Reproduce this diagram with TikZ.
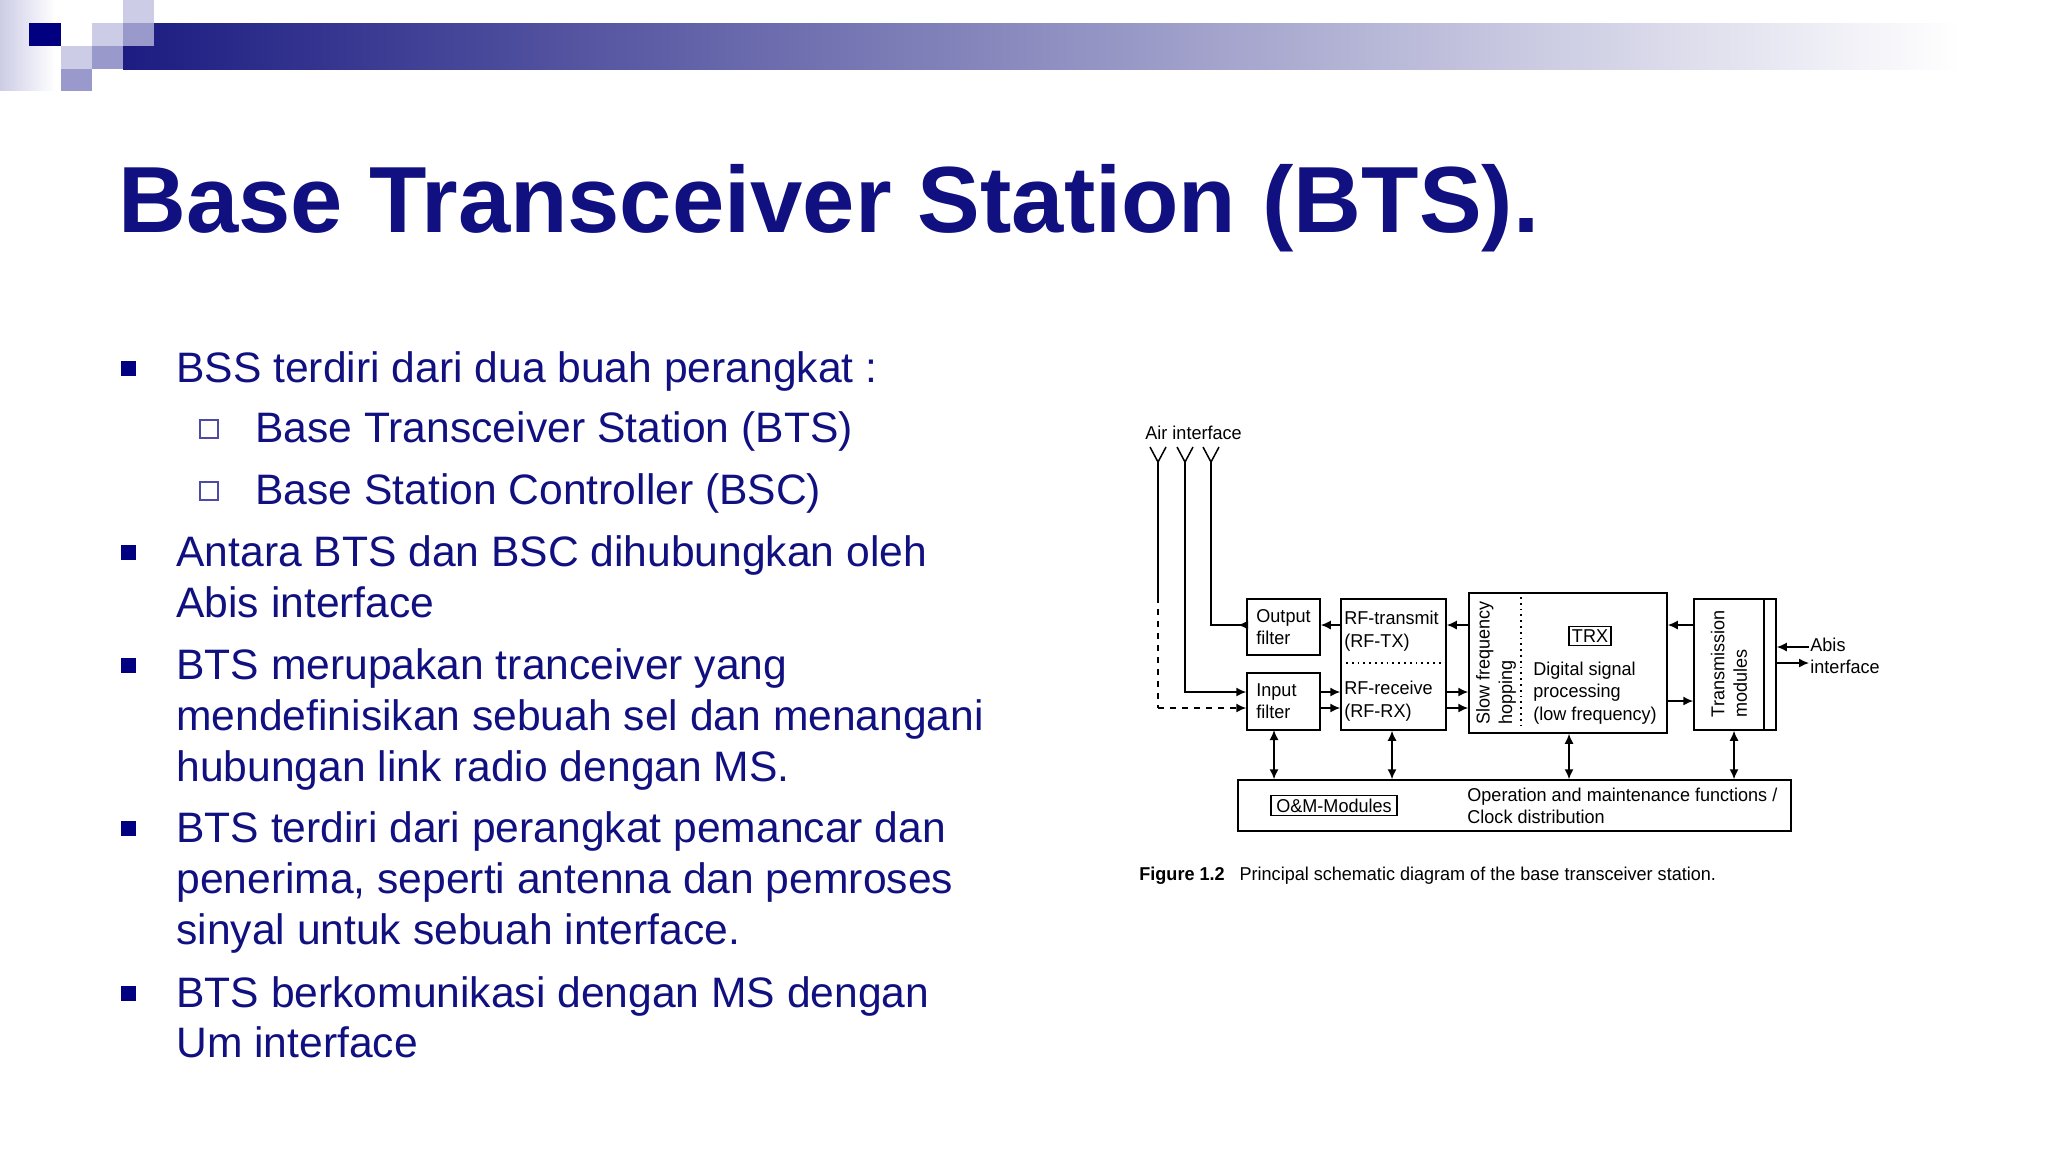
\documentclass[tikz,border=0pt]{standalone}
\usepackage{fontspec}
\setmainfont{Liberation Sans}
\newfontfamily\cond[FakeStretch=0.97]{Liberation Sans}
\usetikzlibrary{arrows.meta,calc}
\definecolor{navy}{RGB}{16,16,128}
\definecolor{sqdark}{RGB}{0,0,128}
\definecolor{sqlight}{RGB}{204,204,230}
\definecolor{sqmid}{RGB}{153,153,204}
\definecolor{barc}{RGB}{28,28,130}
\tikzset{
  blk/.style={draw,line width=0.75pt,inner sep=0pt},
  dlab/.style={font=\cond\fontsize{9.3}{11.3}\selectfont,inner sep=0pt,align=left},
  arr/.style={line width=0.75pt,-{Latex[length=5pt,width=4.5pt]}},
  darr/.style={line width=0.75pt,{Latex[length=5pt,width=4.5pt]}-{Latex[length=5pt,width=4.5pt]}},
  btxt/.style={anchor=base west,inner sep=0pt,text=navy,font=\fontsize{21.3}{25}\selectfont},
}
\begin{document}
\begin{tikzpicture}[x=0.5pt,y=-0.5pt]
\useasboundingbox (0,0) rectangle (2048,1152);
% header
\shade[left color=sqlight,right color=white] (0,0) rectangle (55,90);
\shade[left color=barc,right color=white] (123,23) rectangle (1960,69);
\fill[sqdark] (29,23) rectangle (61,46);
\fill[sqlight] (123,0) rectangle (154,23);
\fill[sqlight] (92,23) rectangle (123,46);
\fill[sqmid] (123,23) rectangle (154,46);
\fill[sqlight] (61,46) rectangle (92,69);
\fill[sqmid] (92,46) rectangle (123,69);
\fill[sqmid] (61,69) rectangle (92,91);
% title
\node[anchor=base west,inner sep=0pt,text=navy,font=\fontsize{47}{56}\selectfont\bfseries] (title) at (118,232) {Base Transceiver Station (BTS).};
% bullets
\foreach \y in {368,552,665,828,993} \fill[sqdark] (121,\y-7) rectangle (136,\y+8);
\foreach \y in {428,490} \draw[sqdark!70,line width=0.7pt] (200,\y-8) rectangle (218,\y+10);
\node[btxt] (b1) at (176,382) {BSS terdiri dari dua buah perangkat :};
\node[btxt] (s1) at (255,442) {Base Transceiver Station (BTS)};
\node[btxt] (s2) at (255,504) {Base Station Controller (BSC)};
\node[btxt] (b2a) at (176,566) {Antara BTS dan BSC dihubungkan oleh};
\node[btxt] (b2b) at (176,617) {Abis interface};
\node[btxt] (b3a) at (176,679) {BTS merupakan tranceiver yang};
\node[btxt] (b3b) at (176,730) {mendefinisikan sebuah sel dan menangani};
\node[btxt] (b3c) at (176,781) {hubungan link radio dengan MS.};
\node[btxt] (b4a) at (176,842) {BTS terdiri dari perangkat pemancar dan};
\node[btxt] (b4b) at (176,893) {penerima, seperti antenna dan pemroses};
\node[btxt] (b4c) at (176,944) {sinyal untuk sebuah interface.};
\node[btxt] (b5a) at (176,1007) {BTS berkomunikasi dengan MS dengan};
\node[btxt] (b5b) at (176,1057) {Um interface};
% diagram
\node[dlab,anchor=west] (air) at (1145,433) {Air interface};
\foreach \n/\x in {a1/1158,a2/1185,a3/1211}{
  \coordinate (\n) at (\x,462);
  \draw[line width=0.75pt] (\x-8,447) -- (\n) -- (\x+8,447);
}
\node[blk,minimum width=36.5pt,minimum height=28pt] (of) at (1283.5,627) {};
\node[blk,minimum width=36.5pt,minimum height=28.5pt] (inf) at (1283.5,701.5) {};
\node[blk,minimum width=52.5pt,minimum height=65.5pt] (rf) at (1393.5,664.5) {};
\node[blk,minimum width=99pt,minimum height=70pt] (trx) at (1568,663) {};
\node[blk,minimum width=41pt,minimum height=65.5pt] (tm) at (1735,664.5) {};
\node[blk,minimum width=276.5pt,minimum height=25.5pt] (om) at (1514.5,805.5) {};
\draw[line width=0.75pt] (1764,599) -- (1764,730);
\draw[dotted,line width=0.9pt] (rf.west |- 0,663) -- (rf.east |- 0,663);
\draw[dotted,line width=0.9pt] (1521,597) -- (1521,729);
% labels
\node[dlab,anchor=west] (ofl) at (1256,627) {Output\\filter};
\node[dlab,anchor=west] (infl) at (1256,701) {Input\\filter};
\node[dlab,anchor=west] (rftx) at (1344,631) {RF-transmit\\(RF-TX)};
\node[dlab,anchor=west] (rfrx) at (1344,701) {RF-receive\\(RF-RX)};
\node[dlab,rotate=90,align=left] (sfh) at (1496,663) {Slow frequency\\hopping};
\node[draw,line width=0.6pt,dlab,inner sep=1.5pt] (trxl) at (1590,636) {TRX};
\node[dlab,anchor=west] (dsp) at (1533,693) {Digital signal\\processing\\(low frequency)};
\node[dlab,rotate=90,align=left] (tml) at (1729,664) {Transmission\\modules};
\node[draw,line width=0.6pt,dlab,inner sep=1.5pt,minimum width=63pt] (omm) at (1334,805.5) {O\&M-Modules};
\node[dlab,anchor=west] (omt) at (1467,806) {Operation and maintenance functions /\\Clock distribution};
% connectors
\draw[line width=0.75pt] (a1) -- (1158,597);
\draw[line width=0.75pt,dashed] (1158,597) -- (1158,708);
\draw[arr,dashed] (1158,708) -- (inf.west |- 0,708);
\draw[arr] (a2) |- (inf.west |- 0,692);
\draw[line width=0.75pt] (a3) |- (of.west |- 0,625);
\draw[arr] (of.west |- 0,625) -- (1238,625);
\draw[arr] (rf.west |- 0,625) -- (of.east |- 0,625);
\draw[arr] (trx.west |- 0,625) -- (rf.east |- 0,625);
\draw[arr] (tm.west |- 0,625) -- (trx.east |- 0,625);
\draw[arr] (inf.east |- 0,692) -- (rf.west |- 0,692);
\draw[arr] (inf.east |- 0,708) -- (rf.west |- 0,708);
\draw[arr] (rf.east |- 0,692) -- (trx.west |- 0,692);
\draw[arr] (rf.east |- 0,708) -- (trx.west |- 0,708);
\draw[arr] (trx.east |- 0,701) -- (tm.west |- 0,701);
\coordinate (abis1) at (1809,647);
\coordinate (abis2) at (1809,663);
\draw[arr] (abis1) -- (tm.east |- abis1);
\draw[arr] (tm.east |- abis2) -- (abis2);
\node[dlab,anchor=west] (abis) at (1810,656) {Abis\\interface};
\draw[darr] (1274,730) -- (om.north -| 1274,0);
\draw[darr] (rf.south -| 1392,0) -- (om.north -| 1392,0);
\draw[darr] (trx.south -| 1569,0) -- (om.north -| 1569,0);
\draw[darr] (tm.south -| 1734,0) -- (om.north -| 1734,0);
\node[anchor=base west,inner sep=0pt,font=\cond\fontsize{9.3}{11}\selectfont] (cap) at (1139,880) {\textbf{Figure 1.2}\hspace{5pt} Principal schematic diagram of the base transceiver station.};
\end{tikzpicture}
\end{document}
